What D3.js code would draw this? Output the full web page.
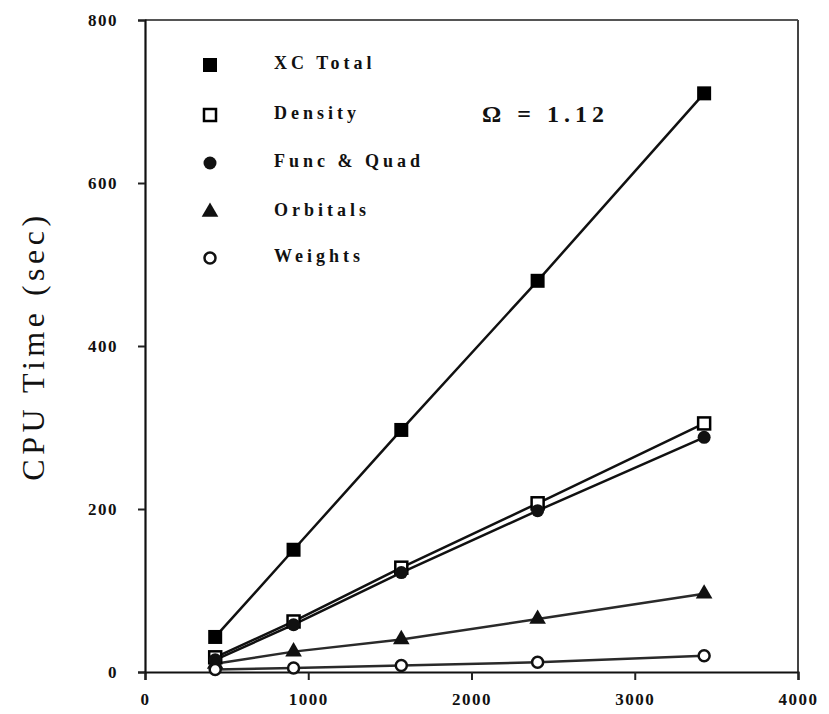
<!DOCTYPE html>
<html>
<head>
<meta charset="utf-8">
<script src="https://cdn.jsdelivr.net/npm/d3@7"></script>
<style>
  html, body { margin: 0; padding: 0; background: #fff; }
  svg { display: block; }
  text { font-family: "Liberation Serif", "DejaVu Serif", serif; fill: #111; }
</style>
</head>
<body>
<svg id="chart" width="829" height="714"></svg>
<script>
// ---- data ----
const atoms = [430, 910, 1570, 2405, 3425];
const xcTotal = [43, 150, 297, 480, 710];
const density = [18, 62, 128, 207, 305];
const funcQuad = [15, 58, 122, 198, 288];
const orbitals = [10, 25, 40, 65, 96];
const weights = [3, 5, 8, 12, 20];
const seriesNames = ["XC Total", "Density", "Func & Quad", "Orbitals", "Weights"];
const seriesSymbols = ["filledSquare", "openSquare", "filledCircle", "filledTriangle", "openCircle"];
const xTicks = [0, 1000, 2000, 3000, 4000];
const yTicks = [0, 200, 400, 600, 800];
const yTitle = "CPU Time (sec)";
const annotation = "Ω = 1.12";

const allSeries = [xcTotal, density, funcQuad, orbitals, weights];

const svg = d3.select("#chart");
const pL = 145, pR = 798, pT = 20, pB = 672;

const x = d3.scaleLinear().domain([0, 4000]).range([pL, pR]);
const y = d3.scaleLinear().domain([0, 800]).range([pB, pT]);

// frame (top & right)
svg.append("line").attr("x1", pL).attr("x2", pR).attr("y1", pT).attr("y2", pT)
  .attr("stroke", "#555").attr("stroke-width", 2);
svg.append("line").attr("x1", pR).attr("x2", pR).attr("y1", pT).attr("y2", pB)
  .attr("stroke", "#444").attr("stroke-width", 2);

// axes
const xAxis = svg.append("g").attr("transform", `translate(0,${pB})`)
  .call(d3.axisBottom(x).tickValues(xTicks).tickFormat(d3.format("d")).tickSize(8).tickPadding(10));
const yAxis = svg.append("g").attr("transform", `translate(${pL},0)`)
  .call(d3.axisLeft(y).tickValues(yTicks).tickFormat(d3.format("d")).tickSize(7).tickPadding(20));

[xAxis, yAxis].forEach(g => {
  g.select(".domain").attr("stroke", "#111").attr("stroke-width", 2.2);
  g.selectAll(".tick line").attr("stroke", "#222").attr("stroke-width", 2);
  g.selectAll(".tick text")
    .style("font-family", "'Liberation Serif', serif")
    .style("font-weight", "bold")
    .style("font-size", "17px")
    .style("letter-spacing", "1.5px")
    .attr("fill", "#111");
});
xAxis.selectAll(".tick text").attr("dy", "0.9em");

// y-axis title
svg.append("text")
  .attr("transform", `translate(37,${(pT + pB) / 2}) rotate(-90)`)
  .attr("text-anchor", "middle")
  .attr("dominant-baseline", "middle")
  .style("font-size", "32px")
  .style("letter-spacing", "4.5px")
  .text(yTitle);

// annotation
svg.append("text")
  .attr("x", 482).attr("y", 122)
  .style("font-size", "24px")
  .style("font-weight", "bold")
  .style("letter-spacing", "5px")
  .text(annotation);

// lines
const line = d3.line().x((d, i) => x(atoms[i])).y(d => y(d));
allSeries.forEach((s, k) => {
  svg.append("path").datum(s)
    .attr("d", line)
    .attr("fill", "none")
    .attr("stroke", k >= 3 ? "#2a2a2a" : "#111")
    .attr("stroke-width", 2.5);
});

// symbol drawing
function drawSymbol(g, type, cx, cy) {
  if (type === "filledSquare") {
    g.append("rect").attr("x", cx - 7).attr("y", cy - 7).attr("width", 14).attr("height", 14)
      .attr("fill", "#000");
  } else if (type === "openSquare") {
    g.append("rect").attr("x", cx - 6).attr("y", cy - 6).attr("width", 12).attr("height", 12)
      .attr("fill", "#fff").attr("stroke", "#000").attr("stroke-width", 2.5);
  } else if (type === "filledCircle") {
    g.append("circle").attr("cx", cx).attr("cy", cy).attr("r", 6.5).attr("fill", "#111");
  } else if (type === "filledTriangle") {
    g.append("path").attr("d", d3.symbol().type(d3.symbolTriangle).size(120)())
      .attr("transform", `translate(${cx},${cy})`).attr("fill", "#111");
  } else if (type === "openCircle") {
    g.append("circle").attr("cx", cx).attr("cy", cy).attr("r", 5.5)
      .attr("fill", "#fff").attr("stroke", "#111").attr("stroke-width", 2.5);
  }
}

// markers
allSeries.forEach((s, k) => {
  const g = svg.append("g");
  s.forEach((v, i) => drawSymbol(g, seriesSymbols[k], x(atoms[i]), y(v)));
});

// legend
const legendY = [65, 115, 163, 212, 258];
seriesNames.forEach((name, k) => {
  const g = svg.append("g");
  drawSymbol(g, seriesSymbols[k], 210, legendY[k]);
  g.append("text")
    .attr("x", 274).attr("y", legendY[k])
    .attr("dominant-baseline", "middle")
    .style("font-size", "18px")
    .style("font-weight", "bold")
    .style("letter-spacing", "4px")
    .text(name);
});
</script>
</body>
</html>
